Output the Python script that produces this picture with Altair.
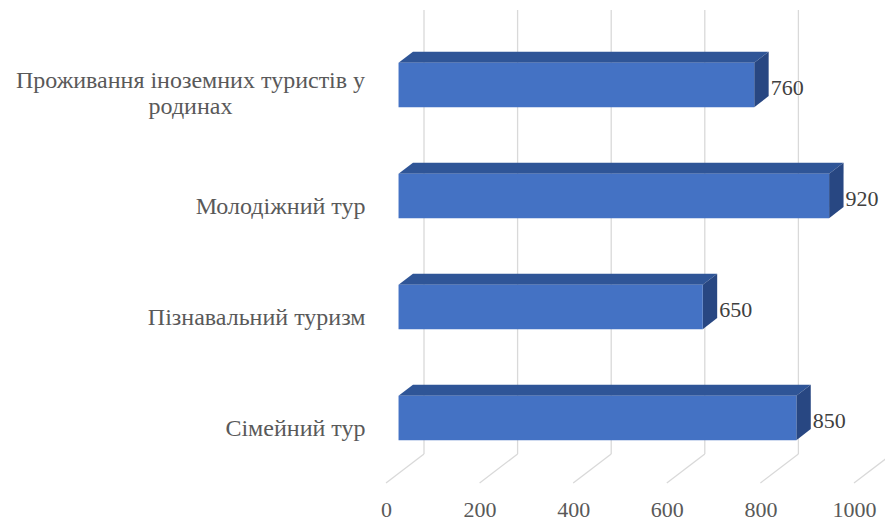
import json
import textwrap

import altair as alt
import pandas as pd

# Ukrainian tourism formats and their counts
categories = [
    "Проживання іноземних туристів у родинах",
    "Молодіжний тур",
    "Пізнавальний туризм",
    "Сімейний тур",
]
values = [760, 920, 650, 850]
tick_values = [0, 200, 400, 600, 800, 1000]

# plot geometry (pixels) and the 3D box depth
PLOT_W, PLOT_H = 468, 444
X_MAX = tick_values[-1]
N = len(categories)
X_PER_PX = X_MAX / PLOT_W
Y_PER_PX = N / PLOT_H
DEPTH_PX = (38, 29)          # floor depth: to the right, upward
BAR_NEAR, BAR_FAR = 0.33, 0.71
BAR_HALF = 0.2               # half bar height, category units

FRONT = "#4472C4"
TOP = "#2F5597"
SIDE = "#284782"
GRID = "#D9D9D9"
SERIF = "Liberation Serif"


def shift(frac):
    """Data-space offset of a plane lying `frac` of the way into the depth."""
    return frac * DEPTH_PX[0] * X_PER_PX, -frac * DEPTH_PX[1] * Y_PER_PX


nx, ny = shift(BAR_NEAR)
fx, fy = shift(BAR_FAR)
wx, wy = shift(1.0)

front_rows, top_rows, side_rows, label_rows = [], [], [], []
for i, (cat, v) in enumerate(zip(categories, values)):
    front_rows.append(dict(cat=cat, x=nx, x2=v + nx,
                           y=i - BAR_HALF + ny, y2=i + BAR_HALF + ny))
    top_rows += [
        dict(cat=cat, y=i - BAR_HALF + ny, x=nx, x2=v + nx),
        dict(cat=cat, y=i - BAR_HALF + fy, x=fx, x2=v + fx),
    ]
    side_rows += [
        dict(cat=cat, x=v + nx, y=i - BAR_HALF + ny, y2=i + BAR_HALF + ny),
        dict(cat=cat, x=v + fx, y=i - BAR_HALF + fy, y2=i + BAR_HALF + fy),
    ]
    label_rows.append(dict(cat=cat, value=v, x=v + fx, y=i + ny))

wall_rows = [dict(t=t, x=t + wx, y=-0.5 + wy, y2=N - 0.5 + wy) for t in tick_values]
floor_rows = [dict(t=t, x=t, y=N - 0.5, x2=t + wx, y2=N - 0.5 + wy) for t in tick_values]

x_scale = alt.Scale(domain=[0, X_MAX], nice=False, zero=False)
y_scale = alt.Scale(domain=[-0.5, N - 0.5], reverse=True, nice=False, zero=False)

wrapped = [textwrap.wrap(c, 31) for c in categories]
y_label_expr = json.dumps(wrapped, ensure_ascii=False) + "[datum.value]"

# the wrapped (two-line) label is centred as a block beside its bar
is_wrapped = "length(" + y_label_expr.replace("[datum.value]", "") + "[datum.value]) > 1"

x_axis = alt.Axis(
    values=tick_values, format="d", title=None, domain=False, ticks=False, grid=False,
    labelFont=SERIF, labelFontSize=22, labelColor="#595959",
    labelPadding=26, labelBaseline="middle", labelFlush=False, labelOverlap=False,
)
y_axis = alt.Axis(
    values=list(range(N)), labelExpr=y_label_expr, title=None,
    domain=False, ticks=False, grid=False,
    labelFont=SERIF, labelFontSize=24, labelColor="#595959",
    labelLineHeight=26, labelBaseline="middle", labelLimit=500,
    labelOffset={"condition": {"test": is_wrapped, "value": -14}, "value": 1},
    labelAlign={"condition": {"test": is_wrapped, "value": "center"}, "value": "right"},
    labelPadding={"condition": {"test": is_wrapped, "value": 196}, "value": 21},
    labelOverlap=False, labelBound=False,
)

# every layer shares the same positional encodings, so the axes merge
X = alt.X("x:Q", scale=x_scale, axis=x_axis)
Y = alt.Y("y:Q", scale=y_scale, axis=y_axis)

wall = alt.Chart(pd.DataFrame(wall_rows)).mark_rule(color=GRID, strokeWidth=1.3).encode(
    x=X, y=Y, y2="y2:Q",
)

floor = alt.Chart(pd.DataFrame(floor_rows)).mark_rule(color=GRID, strokeWidth=1.3).encode(
    x=X, y=Y, x2="x2:Q", y2="y2:Q",
)

top = alt.Chart(pd.DataFrame(top_rows)).mark_area(orient="horizontal", color=TOP).encode(
    y=Y, x=X, x2="x2:Q", detail="cat:N",
)

side = alt.Chart(pd.DataFrame(side_rows)).mark_area(orient="vertical", color=SIDE).encode(
    x=X, y=Y, y2="y2:Q", detail="cat:N",
)

front = alt.Chart(pd.DataFrame(front_rows)).mark_rect(color=FRONT).encode(
    x=X, x2="x2:Q", y=Y, y2="y2:Q",
)

labels = alt.Chart(pd.DataFrame(label_rows)).mark_text(
    align="left", baseline="middle", dx=2, dy=3,
    font=SERIF, fontSize=22, color="#404040",
).encode(
    x=X, y=Y, text="value:Q",
)

chart = (
    alt.layer(wall, floor, top, side, front, labels)
    .properties(
        width=PLOT_W, height=PLOT_H, autosize="none",
        padding={"left": 386, "top": 39, "right": 885 - 386 - PLOT_W, "bottom": 522 - 39 - PLOT_H},
        background="white",
    )
    .configure_view(stroke=None)
)

chart.save("out.html", embed_options={"renderer": "svg", "actions": False})
